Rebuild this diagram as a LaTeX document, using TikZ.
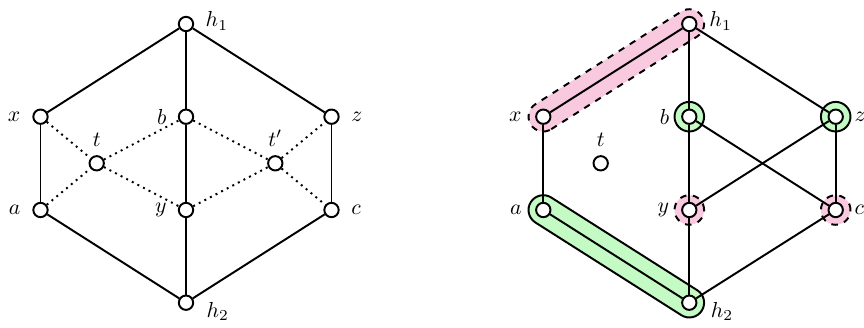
\documentclass[tikz,border=0pt]{standalone}
\usetikzlibrary{calc,backgrounds}
\definecolor{hpink}{RGB}{249,201,223}
\definecolor{hgreen}{RGB}{196,251,196}
\tikzset{
  vtx/.style={circle,draw,fill=white,inner sep=0pt,minimum size=6.6pt,line width=0.9pt},
  edge/.style={line width=0.9pt},
  dotedge/.style={line width=0.9pt,dotted},
  pinkhull/.style={fill=hpink,draw=black,dashed,line width=0.9pt},
  greenhull/.style={fill=hgreen,draw=black,line width=0.9pt},
}
\begin{document}
\begin{tikzpicture}[x=0.46pt,y=0.46pt]
\useasboundingbox (0,0) rectangle (864,327);
% left graph (y = 327 - pixel row)
\node[vtx,label={[label distance=1.8pt,yshift=1.4pt]right:$h_1$}] (Lh1) at (186,303) {};
\node[vtx,label={[label distance=2pt]left:$x$}] (Lx) at (40.5,210.3) {};
\node[vtx,label={[label distance=1.7pt]left:$b$}] (Lb) at (186,210.3) {};
\node[vtx,label={[label distance=1.8pt]right:$z$}] (Lz) at (331.5,210.3) {};
\node[vtx,label={[label distance=0.5pt]above:$t$}] (Lt) at (96.7,163.7) {};
\node[vtx,label={[label distance=0.5pt]above:$t'$}] (Ltp) at (275.3,163.7) {};
\node[vtx,label={[label distance=2pt]left:$a$}] (La) at (40.5,117) {};
\node[vtx,label={[label distance=1.7pt]left:$y$}] (Ly) at (186,117) {};
\node[vtx,label={[label distance=1.8pt]right:$c$}] (Lc) at (331.5,117) {};
\node[vtx,label={[label distance=2.2pt,yshift=-4pt]right:$h_2$}] (Lh2) at (186,24.3) {};
\draw[edge] (Lh1) -- (Lx);
\draw[edge] (Lh1) -- (Lb);
\draw[edge] (Lh1) -- (Lz);
\draw[edge] (Lx) -- (La);
\draw[edge] (Lb) -- (Ly);
\draw[edge] (Lz) -- (Lc);
\draw[edge] (La) -- (Lh2);
\draw[edge] (Ly) -- (Lh2);
\draw[edge] (Lc) -- (Lh2);
\draw[dotedge] (Lx) -- (Lt);
\draw[dotedge] (Lt) -- (Lb);
\draw[dotedge] (La) -- (Lt);
\draw[dotedge] (Lt) -- (Ly);
\draw[dotedge] (Lb) -- (Ltp);
\draw[dotedge] (Ltp) -- (Lz);
\draw[dotedge] (Ly) -- (Ltp);
\draw[dotedge] (Ltp) -- (Lc);
% right graph
\node[vtx,label={[label distance=2pt,yshift=1.4pt]right:$h_1$}] (Rh1) at (689.3,303) {};
\node[vtx,label={[label distance=2.7pt]left:$x$}] (Rx) at (543.3,210.3) {};
\node[vtx,label={[label distance=2pt]left:$b$}] (Rb) at (689.3,210.3) {};
\node[vtx,label={[label distance=1.4pt]right:$z$}] (Rz) at (835.7,210.3) {};
\node[vtx,label={[label distance=0.5pt]above:$t$}] (Rt) at (600.7,163.7) {};
\node[vtx,label={[label distance=2.7pt]left:$a$}] (Ra) at (543.3,117) {};
\node[vtx,label={[label distance=2pt]left:$y$}] (Ry) at (689.3,117) {};
\node[vtx,label={[label distance=1.4pt]right:$c$}] (Rc) at (835.7,117) {};
\node[vtx,label={[label distance=2.6pt,yshift=-4pt]right:$h_2$}] (Rh2) at (689.3,24.3) {};
\begin{scope}[on background layer]
  \path[pinkhull] let \p1=($(Rh1)-(Rx)$), \n1={atan2(\y1,\x1)} in
    ($(Rx)+({\n1-90}:6.8pt)$) -- ($(Rh1)+({\n1-90}:6.8pt)$)
    arc[start angle={\n1-90}, end angle={\n1+90}, radius=6.8pt]
    -- ($(Rx)+({\n1+90}:6.8pt)$)
    arc[start angle={\n1+90}, end angle={\n1+270}, radius=6.8pt] -- cycle;
  \path[greenhull] let \p1=($(Rh2)-(Ra)$), \n1={atan2(\y1,\x1)} in
    ($(Ra)+({\n1-90}:6.8pt)$) -- ($(Rh2)+({\n1-90}:6.8pt)$)
    arc[start angle={\n1-90}, end angle={\n1+90}, radius=6.8pt]
    -- ($(Ra)+({\n1+90}:6.8pt)$)
    arc[start angle={\n1+90}, end angle={\n1+270}, radius=6.8pt] -- cycle;
  \path[greenhull] (Rb) circle[radius=6.8pt];
  \path[greenhull] (Rz) circle[radius=6.8pt];
  \path[pinkhull] (Ry) circle[radius=6.8pt];
  \path[pinkhull] (Rc) circle[radius=6.8pt];
\end{scope}
\draw[edge] (Rh1) -- (Rx);
\draw[edge] (Rh1) -- (Rb);
\draw[edge] (Rh1) -- (Rz);
\draw[edge] (Rx) -- (Ra);
\draw[edge] (Ra) -- (Rh2);
\draw[edge] (Rb) -- (Ry);
\draw[edge] (Rb) -- (Rc);
\draw[edge] (Rz) -- (Ry);
\draw[edge] (Rz) -- (Rc);
\draw[edge] (Ry) -- (Rh2);
\draw[edge] (Rc) -- (Rh2);
\end{tikzpicture}
\end{document}
